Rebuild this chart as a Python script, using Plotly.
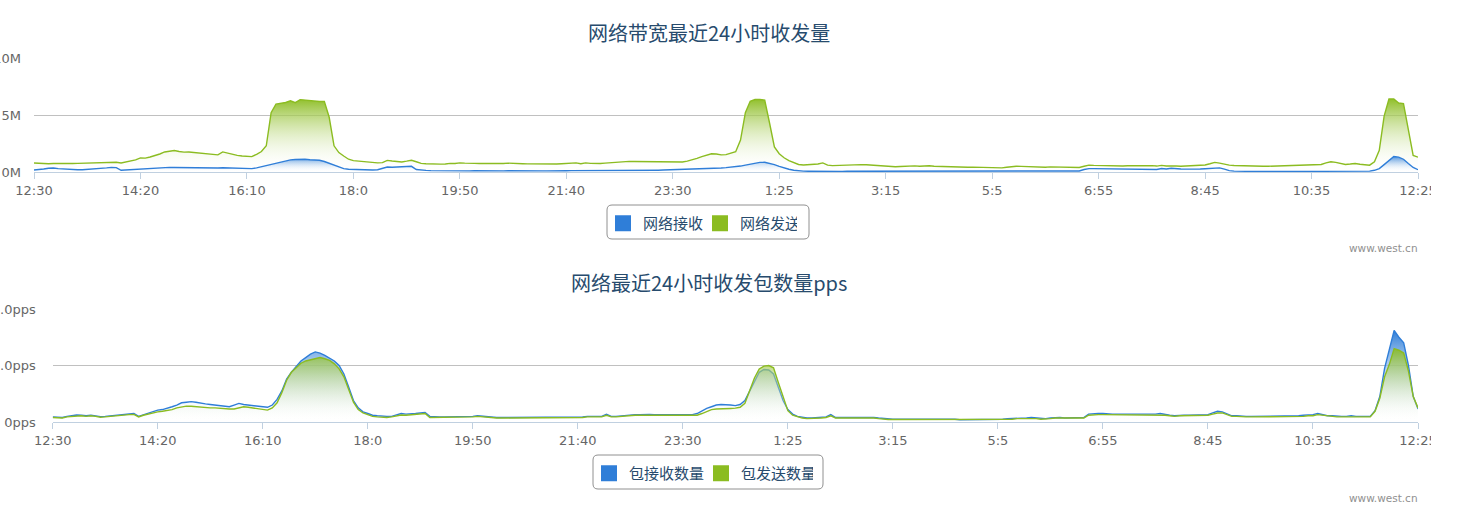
import plotly.graph_objects as go

W, H = 1459, 517

BLUE = "#2f7ed8"
GREEN = "#8bbc21"
TITLE_COLOR = "#274b6d"
LABEL_COLOR = "#666666"
GRID = "#C0C0C0"
AXIS_LINE = "#C0D0E0"
CJK = "Noto Sans CJK SC"
LATIN = "DejaVu Sans"

TICK_LABELS = ["12:30", "14:20", "16:10", "18:0", "19:50", "21:40", "23:30",
               "1:25", "3:15", "5:5", "6:55", "8:45", "10:35", "12:25"]

# 网络发送 (MB), one value per 5 min sample, one line per tick interval
SEND_MB = [
    0.79, 0.76, 0.71, 0.72, 0.74, 0.73, 0.75, 0.73, 0.74, 0.76, 0.77, 0.76, 0.78, 0.79, 0.81, 0.84, 0.87, 0.85, 0.79, 0.86, 0.95, 1.06,
    1.24, 1.22, 1.32, 1.44, 1.58, 1.76, 1.85, 1.88, 1.80, 1.74, 1.76, 1.72, 1.66, 1.62, 1.56, 1.52, 1.50, 1.76, 1.64, 1.53, 1.46, 1.40,
    1.38, 1.35, 1.55, 1.80, 2.30, 5.20, 5.95, 6.02, 6.10, 6.25, 6.08, 6.35, 6.30, 6.24, 6.20, 6.18, 6.18, 4.80, 2.30, 1.70, 1.40, 1.12,
    1.00, 0.95, 0.90, 0.86, 0.82, 0.80, 0.82, 1.02, 0.96, 0.90, 0.88, 0.95, 1.03, 0.90, 0.76, 0.73, 0.70, 0.68, 0.69, 0.70, 0.76, 0.74,
    0.80, 0.78, 0.80, 0.76, 0.74, 0.73, 0.72, 0.72, 0.71, 0.74, 0.78, 0.74, 0.73, 0.72, 0.71, 0.70, 0.69, 0.68, 0.68, 0.69, 0.70, 0.72,
    0.74, 0.78, 0.80, 0.72, 0.80, 0.76, 0.72, 0.74, 0.78, 0.82, 0.86, 0.90, 0.92, 0.93, 0.92, 0.91, 0.90, 0.90, 0.88, 0.88, 0.87, 0.86,
    0.84, 0.85, 0.88, 0.95, 1.05, 1.20, 1.35, 1.50, 1.60, 1.58, 1.50, 1.52, 1.62, 1.78, 2.80, 5.20, 6.20, 6.36, 6.36, 6.30, 4.30, 2.20,
    1.60, 1.25, 1.00, 0.80, 0.66, 0.62, 0.64, 0.66, 0.70, 0.80, 0.60, 0.56, 0.58, 0.60, 0.62, 0.64, 0.66, 0.65, 0.63, 0.60, 0.56, 0.52,
    0.48, 0.45, 0.46, 0.48, 0.52, 0.55, 0.54, 0.50, 0.52, 0.55, 0.50, 0.48, 0.46, 0.45, 0.46, 0.44, 0.42, 0.42, 0.43, 0.41, 0.40, 0.40,
    0.38, 0.35, 0.36, 0.42, 0.48, 0.50, 0.49, 0.47, 0.44, 0.41, 0.39, 0.42, 0.45, 0.44, 0.42, 0.41, 0.40, 0.40, 0.40, 0.50, 0.60, 0.58,
    0.56, 0.55, 0.53, 0.52, 0.50, 0.52, 0.55, 0.56, 0.57, 0.57, 0.55, 0.56, 0.52, 0.58, 0.53, 0.50, 0.52, 0.51, 0.53, 0.55, 0.57, 0.56,
    0.62, 0.72, 0.84, 0.78, 0.68, 0.60, 0.57, 0.55, 0.54, 0.53, 0.52, 0.51, 0.50, 0.50, 0.52, 0.54, 0.55, 0.56, 0.58, 0.62, 0.63, 0.62,
    0.64, 0.65, 0.66, 0.80, 0.90, 0.84, 0.74, 0.66, 0.70, 0.75, 0.68, 0.62, 0.60, 0.90, 1.90, 4.90, 6.40, 6.40, 6.05, 6.00, 3.70, 1.45, 1.30,
]

# 网络接收 (MB)
RECV_MB = [
    0.18, 0.20, 0.26, 0.33, 0.35, 0.30, 0.26, 0.24, 0.22, 0.20, 0.20, 0.22, 0.25, 0.28, 0.32, 0.36, 0.41, 0.38, 0.15, 0.18, 0.22, 0.25,
    0.28, 0.32, 0.35, 0.38, 0.40, 0.41, 0.41, 0.40, 0.39, 0.38, 0.37, 0.36, 0.36, 0.35, 0.34, 0.34, 0.35, 0.37, 0.36, 0.35, 0.33, 0.31,
    0.30, 0.30, 0.36, 0.46, 0.58, 0.70, 0.82, 0.92, 1.00, 1.06, 1.10, 1.14, 1.12, 1.08, 1.06, 1.03, 0.92, 0.76, 0.60, 0.44, 0.30, 0.24,
    0.22, 0.20, 0.19, 0.18, 0.18, 0.20, 0.32, 0.44, 0.42, 0.44, 0.46, 0.48, 0.50, 0.22, 0.16, 0.14, 0.12, 0.11, 0.10, 0.10, 0.10, 0.10,
    0.10, 0.09, 0.10, 0.11, 0.10, 0.09, 0.08, 0.08, 0.09, 0.10, 0.11, 0.10, 0.09, 0.08, 0.08, 0.08, 0.09, 0.10, 0.10, 0.09, 0.09, 0.10,
    0.11, 0.12, 0.12, 0.10, 0.12, 0.11, 0.10, 0.10, 0.11, 0.12, 0.13, 0.14, 0.14, 0.15, 0.14, 0.14, 0.13, 0.14, 0.15, 0.16, 0.17, 0.18,
    0.20, 0.22, 0.24, 0.26, 0.28, 0.30, 0.31, 0.32, 0.33, 0.34, 0.35, 0.38, 0.42, 0.45, 0.52, 0.60, 0.70, 0.78, 0.84, 0.85, 0.78, 0.65,
    0.50, 0.36, 0.24, 0.15, 0.10, 0.08, 0.07, 0.06, 0.06, 0.07, 0.06, 0.06, 0.05, 0.05, 0.06, 0.06, 0.05, 0.05, 0.05, 0.05, 0.05, 0.05,
    0.05, 0.05, 0.04, 0.04, 0.05, 0.05, 0.06, 0.05, 0.05, 0.05, 0.04, 0.04, 0.05, 0.05, 0.05, 0.04, 0.04, 0.05, 0.05, 0.05, 0.04, 0.04,
    0.06, 0.07, 0.08, 0.08, 0.09, 0.09, 0.08, 0.08, 0.09, 0.09, 0.08, 0.08, 0.09, 0.09, 0.08, 0.08, 0.08, 0.08, 0.09, 0.22, 0.30, 0.30,
    0.29, 0.28, 0.27, 0.26, 0.25, 0.24, 0.24, 0.23, 0.23, 0.24, 0.25, 0.24, 0.22, 0.30, 0.26, 0.33, 0.28, 0.26, 0.25, 0.24, 0.25, 0.26,
    0.28, 0.32, 0.35, 0.36, 0.25, 0.12, 0.08, 0.06, 0.05, 0.05, 0.05, 0.05, 0.04, 0.04, 0.05, 0.05, 0.05, 0.05, 0.05, 0.05, 0.04, 0.04,
    0.05, 0.05, 0.05, 0.05, 0.06, 0.06, 0.05, 0.05, 0.05, 0.05, 0.05, 0.06, 0.08, 0.15, 0.30, 0.65, 1.05, 1.36, 1.30, 1.12, 0.75, 0.40, 0.20,
]

# 包接收数量 (pps)
RECV_PPS = [
    0.09, 0.09, 0.08, 0.10, 0.11, 0.125, 0.12, 0.11, 0.12, 0.11, 0.095, 0.10, 0.11, 0.115, 0.12, 0.13, 0.14, 0.15, 0.10, 0.13, 0.16, 0.19,
    0.21, 0.22, 0.24, 0.27, 0.30, 0.34, 0.35, 0.36, 0.35, 0.33, 0.32, 0.31, 0.30, 0.29, 0.28, 0.27, 0.30, 0.33, 0.31, 0.30, 0.29, 0.28,
    0.26, 0.26, 0.30, 0.40, 0.55, 0.76, 0.88, 0.98, 1.08, 1.14, 1.20, 1.24, 1.22, 1.18, 1.13, 1.08, 1.00, 0.85, 0.62, 0.38, 0.25, 0.18,
    0.15, 0.12, 0.11, 0.10, 0.10, 0.10, 0.13, 0.15, 0.14, 0.14, 0.15, 0.16, 0.17, 0.10, 0.09, 0.09, 0.09, 0.09, 0.09, 0.09, 0.10, 0.10,
    0.10, 0.11, 0.10, 0.09, 0.09, 0.08, 0.08, 0.08, 0.09, 0.09, 0.08, 0.08, 0.08, 0.08, 0.08, 0.09, 0.09, 0.08, 0.08, 0.09, 0.09, 0.09,
    0.09, 0.09, 0.10, 0.10, 0.11, 0.10, 0.135, 0.10, 0.10, 0.11, 0.12, 0.12, 0.13, 0.13, 0.135, 0.135, 0.13, 0.13, 0.12, 0.12, 0.12, 0.12,
    0.12, 0.12, 0.13, 0.15, 0.20, 0.24, 0.27, 0.30, 0.31, 0.31, 0.30, 0.29, 0.31, 0.38, 0.55, 0.72, 0.88, 0.93, 0.92, 0.85, 0.60, 0.38,
    0.22, 0.14, 0.10, 0.08, 0.07, 0.07, 0.08, 0.08, 0.09, 0.13, 0.08, 0.08, 0.08, 0.09, 0.09, 0.09, 0.09, 0.09, 0.08, 0.07, 0.06, 0.05,
    0.05, 0.05, 0.05, 0.05, 0.06, 0.05, 0.05, 0.06, 0.06, 0.05, 0.05, 0.05, 0.05, 0.05, 0.04, 0.04, 0.05, 0.05, 0.05, 0.04, 0.04, 0.05,
    0.05, 0.05, 0.06, 0.06, 0.07, 0.07, 0.07, 0.08, 0.07, 0.06, 0.06, 0.07, 0.08, 0.08, 0.07, 0.07, 0.07, 0.07, 0.08, 0.14, 0.15, 0.15,
    0.15, 0.14, 0.14, 0.14, 0.14, 0.14, 0.14, 0.13, 0.13, 0.13, 0.13, 0.14, 0.15, 0.13, 0.12, 0.11, 0.12, 0.12, 0.12, 0.12, 0.12, 0.12,
    0.13, 0.16, 0.19, 0.18, 0.14, 0.11, 0.11, 0.10, 0.10, 0.10, 0.10, 0.10, 0.10, 0.10, 0.10, 0.10, 0.10, 0.10, 0.11, 0.11, 0.12, 0.12,
    0.13, 0.15, 0.13, 0.11, 0.11, 0.10, 0.10, 0.10, 0.11, 0.10, 0.10, 0.10, 0.10, 0.20, 0.45, 0.95, 1.30, 1.62, 1.50, 1.40, 1.00, 0.45, 0.23,
]

# 包发送数量 (pps)
SEND_PPS = [
    0.08, 0.08, 0.07, 0.09, 0.10, 0.11, 0.11, 0.10, 0.11, 0.10, 0.085, 0.09, 0.10, 0.105, 0.11, 0.12, 0.13, 0.135, 0.09, 0.12, 0.14, 0.17,
    0.18, 0.19, 0.20, 0.22, 0.25, 0.27, 0.28, 0.28, 0.27, 0.26, 0.26, 0.25, 0.25, 0.24, 0.24, 0.23, 0.23, 0.25, 0.27, 0.26, 0.25, 0.24,
    0.22, 0.21, 0.25, 0.34, 0.52, 0.74, 0.88, 0.96, 1.04, 1.08, 1.10, 1.12, 1.14, 1.12, 1.09, 1.03, 0.94, 0.80, 0.58, 0.35, 0.22, 0.16,
    0.13, 0.10, 0.09, 0.08, 0.08, 0.09, 0.11, 0.125, 0.12, 0.13, 0.14, 0.15, 0.15, 0.08, 0.08, 0.08, 0.08, 0.08, 0.08, 0.08, 0.09, 0.09,
    0.09, 0.10, 0.09, 0.08, 0.08, 0.07, 0.07, 0.07, 0.08, 0.08, 0.07, 0.07, 0.07, 0.07, 0.07, 0.08, 0.08, 0.07, 0.07, 0.08, 0.08, 0.08,
    0.08, 0.08, 0.09, 0.09, 0.10, 0.09, 0.12, 0.09, 0.09, 0.10, 0.11, 0.11, 0.12, 0.12, 0.12, 0.12, 0.12, 0.12, 0.11, 0.11, 0.11, 0.11,
    0.11, 0.11, 0.11, 0.12, 0.15, 0.19, 0.22, 0.23, 0.23, 0.24, 0.24, 0.245, 0.26, 0.33, 0.55, 0.78, 0.94, 0.99, 1.00, 0.96, 0.70, 0.45,
    0.20, 0.12, 0.09, 0.07, 0.06, 0.06, 0.07, 0.07, 0.08, 0.11, 0.07, 0.07, 0.07, 0.08, 0.08, 0.08, 0.08, 0.08, 0.07, 0.06, 0.05, 0.045,
    0.045, 0.045, 0.045, 0.045, 0.05, 0.045, 0.045, 0.05, 0.05, 0.045, 0.045, 0.045, 0.045, 0.045, 0.04, 0.04, 0.045, 0.045, 0.045, 0.04, 0.04, 0.045,
    0.04, 0.045, 0.05, 0.05, 0.06, 0.06, 0.06, 0.07, 0.06, 0.05, 0.05, 0.06, 0.07, 0.07, 0.06, 0.06, 0.06, 0.06, 0.07, 0.12, 0.13, 0.13,
    0.13, 0.13, 0.12, 0.12, 0.12, 0.12, 0.12, 0.12, 0.12, 0.12, 0.12, 0.13, 0.13, 0.12, 0.11, 0.10, 0.11, 0.11, 0.11, 0.11, 0.11, 0.11,
    0.12, 0.14, 0.16, 0.16, 0.13, 0.10, 0.10, 0.09, 0.09, 0.09, 0.09, 0.09, 0.09, 0.09, 0.09, 0.09, 0.09, 0.09, 0.10, 0.10, 0.10, 0.11,
    0.11, 0.13, 0.12, 0.10, 0.10, 0.09, 0.09, 0.09, 0.10, 0.09, 0.09, 0.09, 0.09, 0.19, 0.42, 0.80, 1.02, 1.30, 1.27, 1.22, 0.90, 0.45, 0.25,
]

MB_TICKS = [0, 5, 10]
MB_LABELS = ["0M", "5M", "10M"]
PPS_TICKS = [0, 1, 2]
PPS_LABELS = ["0pps", "1.0pps", "2.0pps"]

for s in (SEND_MB, RECV_MB, RECV_PPS, SEND_PPS):
    assert len(s) == 287, len(s)

idx = list(range(len(SEND_MB)))
tick_pos = list(range(0, len(SEND_MB), 22))


def px(x):
    return x / W


def py(y):
    return 1 - y / H


def rgba(hex_color, a):
    h = hex_color.lstrip("#")
    r, g, b = int(h[0:2], 16), int(h[2:4], 16), int(h[4:6], 16)
    return f"rgba({r},{g},{b},{a})"


def area(y, color, xa, ya, alpha):
    return go.Scatter(
        x=idx, y=y, xaxis=xa, yaxis=ya, mode="lines",
        line=dict(color=color, width=1.4),
        fill="tozeroy",
        fillgradient=dict(
            type="vertical", start=0, stop=max(y),
            colorscale=[[0, "rgba(255,255,255,0)"], [1, rgba(color, alpha)]],
        ),
        showlegend=False, hoverinfo="skip",
    )


def swatch(name, color, legend):
    return go.Scatter(
        x=[None], y=[None], mode="markers", name=name, legend=legend,
        marker=dict(symbol="square", size=16, color=color),
    )


def rounded_box(x0, y0, x1, y1, r=5):
    # rounded rectangle in pixel units, converted to paper coordinates
    pts = [
        f"M {px(x0 + r)},{py(y0)}", f"L {px(x1 - r)},{py(y0)}",
        f"Q {px(x1)},{py(y0)} {px(x1)},{py(y0 + r)}", f"L {px(x1)},{py(y1 - r)}",
        f"Q {px(x1)},{py(y1)} {px(x1 - r)},{py(y1)}", f"L {px(x0 + r)},{py(y1)}",
        f"Q {px(x0)},{py(y1)} {px(x0)},{py(y1 - r)}", f"L {px(x0)},{py(y0 + r)}",
        f"Q {px(x0)},{py(y0)} {px(x0 + r)},{py(y0)}", "Z",
    ]
    return dict(type="path", path=" ".join(pts), xref="paper", yref="paper",
                line=dict(color="#909090", width=1), fillcolor="rgba(0,0,0,0)",
                layer="below")


fig = go.Figure()
# top chart: green below, blue above
fig.add_trace(area(SEND_MB, GREEN, "x", "y", 0.95))
fig.add_trace(area(RECV_MB, BLUE, "x", "y", 0.85))
# bottom chart: blue below, green above
fig.add_trace(area(RECV_PPS, BLUE, "x2", "y2", 1.0))
fig.add_trace(area(SEND_PPS, GREEN, "x2", "y2", 0.9))

fig.add_trace(swatch("网络接收", BLUE, "legend"))
fig.add_trace(swatch("网络发送", GREEN, "legend"))
fig.add_trace(swatch("包接收数量", BLUE, "legend2"))
fig.add_trace(swatch("包发送数量", GREEN, "legend2"))

xcommon = dict(
    range=[0, len(SEND_MB) - 1], tickvals=tick_pos, ticktext=TICK_LABELS,
    showgrid=False, zeroline=False, showline=True, linecolor=AXIS_LINE,
    ticks="outside", ticklen=6, tickcolor=AXIS_LINE,
    tickfont=dict(family=LATIN, size=13, color=LABEL_COLOR),
    automargin=False, fixedrange=True,
)
ycommon = dict(
    showgrid=True, gridcolor=GRID, gridwidth=1, zeroline=False, showline=False,
    ticks="", tickfont=dict(family=LATIN, size=13, color=LABEL_COLOR),
    automargin=False, fixedrange=True,
)

legend_common = dict(
    orientation="h", xanchor="left", yanchor="top",
    borderwidth=0, bgcolor="rgba(0,0,0,0)",
    font=dict(family=CJK, size=15, color=TITLE_COLOR),
    itemclick=False, itemdoubleclick=False, entrywidthmode="pixels",
)

fig.update_layout(
    width=W, height=H,
    margin=dict(l=0, r=0, t=0, b=0),
    paper_bgcolor="white", plot_bgcolor="white",
    xaxis=dict(domain=[px(34), px(1418)], anchor="y", **xcommon),
    yaxis=dict(domain=[py(172), py(58)], anchor="x", range=[0, 10],
               tickvals=MB_TICKS, ticktext=MB_LABELS, ticklabelstandoff=12, **ycommon),
    xaxis2=dict(domain=[px(52.7), px(1418)], anchor="y2", **xcommon),
    yaxis2=dict(domain=[py(422), py(309)], anchor="x2", range=[0, 2],
                tickvals=PPS_TICKS, ticktext=PPS_LABELS, ticklabelstandoff=16, **ycommon),
    legend=dict(x=px(603), y=py(207), entrywidth=52, **legend_common),
    legend2=dict(x=px(589), y=py(457), entrywidth=67, **legend_common),
    annotations=[
        dict(text="网络带宽最近24小时收发量", x=px(709), y=py(32), xref="paper", yref="paper",
             xanchor="center", yanchor="middle", showarrow=False,
             font=dict(family=CJK, size=20, color=TITLE_COLOR)),
        dict(text="网络最近24小时收发包数量pps", x=px(709), y=py(282), xref="paper", yref="paper",
             xanchor="center", yanchor="middle", showarrow=False,
             font=dict(family=CJK, size=20, color=TITLE_COLOR)),
        dict(text="www.west.cn", x=px(1420), y=py(248), xref="paper", yref="paper",
             xanchor="right", yanchor="middle", showarrow=False,
             font=dict(family=LATIN, size=10.5, color="#909090")),
        dict(text="www.west.cn", x=px(1420), y=py(498), xref="paper", yref="paper",
             xanchor="right", yanchor="middle", showarrow=False,
             font=dict(family=LATIN, size=10.5, color="#909090")),
    ],
    shapes=[
        rounded_box(607, 205, 809, 239),
        rounded_box(593, 455, 823, 489),
        # the reference page is cut just after the last category label
        dict(type="rect", xref="paper", yref="paper", x0=px(1431), x1=1,
             y0=py(200), y1=py(176), fillcolor="white", line_width=0, layer="above"),
        dict(type="rect", xref="paper", yref="paper", x0=px(1431), x1=1,
             y0=py(450), y1=py(426), fillcolor="white", line_width=0, layer="above"),
    ],
)

fig.write_html("out.html", config={"displayModeBar": False},
               post_script="document.body.style.margin='0';")
